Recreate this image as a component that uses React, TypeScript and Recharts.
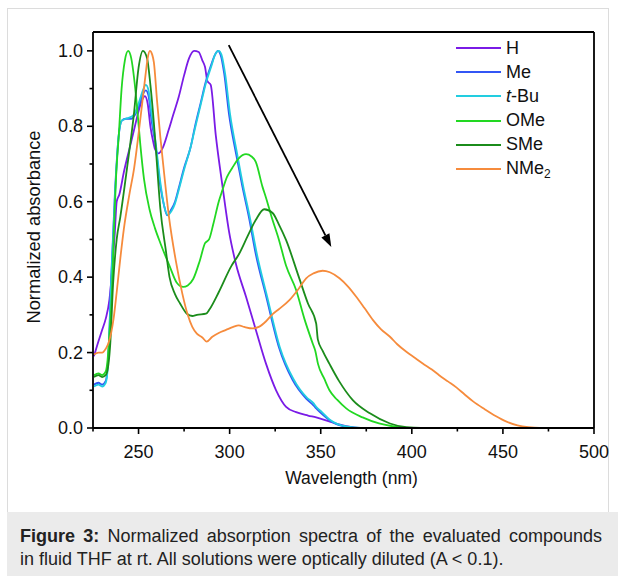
import React from "react";
import { LineChart, Line, XAxis, YAxis, ReferenceLine } from "recharts";

type Pt = [number, number];

// wavelength (nm), normalized absorbance
const H: Pt[] = [
  [225.5, 0.19], [228, 0.23], [230, 0.26], [232, 0.29], [234, 0.34], [236, 0.45], [237, 0.52],
  [238, 0.6], [239.5, 0.62], [242, 0.68], [245.5, 0.75], [248, 0.8], [250, 0.84], [252, 0.87],
  [253.5, 0.88], [255, 0.86], [256.5, 0.8], [258, 0.76], [259, 0.74], [261, 0.728], [263, 0.74],
  [266.5, 0.79], [269, 0.83], [272, 0.877], [275, 0.935], [277.7, 0.98], [280.5, 1.0], [283, 0.997],
  [285, 0.975], [286.5, 0.957], [287.8, 0.92], [289.6, 0.91], [292.4, 0.776], [296, 0.644],
  [299.7, 0.52], [303.4, 0.436], [309, 0.348], [314.4, 0.26], [320, 0.17], [325.5, 0.1],
  [331, 0.056], [336.5, 0.042], [343, 0.033], [347.5, 0.028], [355, 0.017], [364, 0.005],
  [372, 0], [500, 0],
];

const ME: Pt[] = [
  [225.5, 0.115], [228, 0.12], [230, 0.115], [232, 0.125], [233.5, 0.2], [235, 0.4], [237, 0.62],
  [239, 0.77], [240.8, 0.815], [243, 0.82], [246, 0.82], [248, 0.83], [250, 0.85], [252, 0.88],
  [254, 0.895], [255.5, 0.88], [257, 0.82], [259.3, 0.75], [262, 0.64], [264, 0.59], [265.7, 0.564],
  [268, 0.58], [270, 0.6], [272, 0.635], [275, 0.69], [278.6, 0.745], [281, 0.8], [284, 0.86],
  [287, 0.92], [290, 0.965], [292, 0.99], [293.5, 1.0], [295, 0.99], [297, 0.94], [299.7, 0.83],
  [303.4, 0.73], [307, 0.64], [310.7, 0.556], [314.4, 0.46], [320, 0.35], [327, 0.215],
  [334.6, 0.127], [342, 0.078], [346, 0.06], [347.5, 0.052], [350, 0.04], [355, 0.02],
  [364, 0.003], [372, 0], [500, 0],
];

const TBU: Pt[] = [
  [225.5, 0.11], [228, 0.115], [230, 0.11], [232, 0.12], [233.5, 0.19], [235, 0.39], [237, 0.61],
  [239, 0.77], [240.8, 0.815], [243, 0.82], [246, 0.825], [248, 0.835], [250, 0.86], [252, 0.89],
  [254, 0.91], [255.5, 0.895], [257, 0.84], [259.3, 0.76], [262, 0.65], [264, 0.59], [266, 0.565],
  [268, 0.575], [270, 0.595], [272, 0.63], [275, 0.685], [278.6, 0.745], [281, 0.795], [284, 0.855],
  [287, 0.915], [290, 0.96], [292, 0.99], [294, 1.0], [295.5, 0.99], [297.5, 0.94], [300.3, 0.83],
  [304, 0.73], [307.5, 0.64], [311.2, 0.556], [315, 0.46], [320.5, 0.35], [327.5, 0.215],
  [335, 0.13], [342.5, 0.08], [346, 0.066], [347.5, 0.056], [350, 0.045], [355, 0.022],
  [364, 0.004], [372, 0], [500, 0],
];

const OME: Pt[] = [
  [225.5, 0.14], [228, 0.145], [230, 0.14], [232, 0.15], [233, 0.18], [234, 0.25], [235.4, 0.36],
  [236.3, 0.5], [237.6, 0.66], [239.2, 0.78], [240.7, 0.9], [242.5, 0.975], [244.3, 1.0], [246, 0.98],
  [247.5, 0.93], [249.2, 0.85], [251, 0.75], [253, 0.66], [256, 0.58], [259, 0.53], [262, 0.49],
  [267, 0.43], [271, 0.385], [274.5, 0.374], [277, 0.378], [280, 0.395], [283.7, 0.445],
  [286.5, 0.49], [288.7, 0.5], [291, 0.54], [294, 0.6], [296, 0.63], [298.5, 0.665], [301.5, 0.69],
  [305, 0.715], [309, 0.726], [312, 0.72], [314.4, 0.705], [318, 0.64], [320, 0.61], [323, 0.56],
  [327, 0.5], [331, 0.43], [336.5, 0.366], [341, 0.29], [345.6, 0.224], [347, 0.205], [348.5, 0.17],
  [352, 0.13], [354.8, 0.1], [359, 0.075], [364, 0.052], [373, 0.028], [382, 0.012], [390, 0.004],
  [398, 0], [500, 0],
];

const SME: Pt[] = [
  [225.5, 0.135], [228, 0.14], [230, 0.135], [232, 0.14], [233.5, 0.17], [234.5, 0.225], [236, 0.38],
  [238, 0.5], [240, 0.56], [243.7, 0.69], [247.4, 0.83], [250, 0.955], [252.4, 1.0], [254.7, 0.98],
  [256.5, 0.91], [258.4, 0.81], [259.5, 0.74], [262, 0.58], [265, 0.47], [267, 0.4], [270, 0.355],
  [272.8, 0.33], [276.5, 0.303], [279.5, 0.297], [282, 0.3], [287, 0.303], [289, 0.315], [294, 0.36],
  [301, 0.43], [305, 0.46], [310, 0.51], [314.4, 0.552], [319, 0.58], [323.6, 0.57], [327, 0.54],
  [331, 0.498], [338, 0.4], [343, 0.33], [347.5, 0.277], [348.4, 0.235], [351, 0.205], [354.8, 0.17],
  [360, 0.125], [367.6, 0.074], [377, 0.039], [388, 0.012], [397, 0.002], [405, 0], [500, 0],
];

const NME2: Pt[] = [
  [225.5, 0.195], [228, 0.2], [230, 0.2], [232, 0.21], [233.5, 0.225], [236.3, 0.29], [238, 0.36],
  [240, 0.45], [242, 0.53], [245, 0.62], [247.6, 0.69], [251, 0.82], [253.8, 0.935], [255, 0.98],
  [256.2, 1.0], [257.5, 0.99], [258.4, 0.97], [260.2, 0.865], [262, 0.77], [263.5, 0.7],
  [266.7, 0.56], [270.4, 0.445], [274, 0.357], [277, 0.3], [279.5, 0.268], [282, 0.25], [285, 0.24],
  [287.4, 0.229], [290.5, 0.242], [294, 0.252], [298, 0.26], [302, 0.268], [305, 0.272], [308, 0.268],
  [312.6, 0.264], [316, 0.268], [320, 0.283], [323.6, 0.302], [327, 0.315], [332.8, 0.339],
  [338, 0.37], [342, 0.397], [346, 0.41], [351, 0.417], [355, 0.413], [360.3, 0.397], [365, 0.375],
  [369.5, 0.348], [374, 0.318], [378.7, 0.286], [383, 0.262], [388, 0.242], [392, 0.222],
  [397, 0.202], [402, 0.185], [406, 0.171], [411, 0.155], [415, 0.14], [420, 0.123], [424.6, 0.107],
  [429, 0.089], [433.8, 0.07], [440, 0.05], [446, 0.032], [452, 0.017], [458, 0.007], [464, 0.002],
  [470, 0], [500, 0],
];

const SERIES = [
  { name: "H", data: H, color: "#7a1be6" },
  { name: "Me", data: ME, color: "#3256f5" },
  { name: "t-Bu", data: TBU, color: "#22cde0" },
  { name: "OMe", data: OME, color: "#22d822" },
  { name: "SMe", data: SME, color: "#1b8c1b" },
  { name: "NMe2", data: NME2, color: "#f68b3c" },
];

const X_TICKS = [225, 250, 275, 300, 325, 350, 375, 400, 425, 450, 475, 500];
const Y_TICKS = [0, 0.1, 0.2, 0.3, 0.4, 0.5, 0.6, 0.7, 0.8, 0.9, 1.0];
const ARROW = [
  { x: 299.5, y: 1.015 },
  { x: 355.8, y: 0.48 },
];

const FONT = '"Liberation Sans", Arial, Helvetica, sans-serif';

const YTick = (props: any) => {
  const { x, y, payload } = props;
  const major = Math.round(payload.value * 10) % 2 === 0;
  return (
    <g>
      <line x1={x - (major ? 6 : 3.5)} x2={x} y1={y} y2={y} stroke="#000" strokeWidth={1.6} />
      {major && (
        <text x={x - 10} y={y} textAnchor="end" dominantBaseline="central" fontSize={18} fill="#111" fontFamily={FONT}>
          {payload.value.toFixed(1)}
        </text>
      )}
    </g>
  );
};

const XTick = (props: any) => {
  const { x, y, payload } = props;
  const major = payload.value % 50 === 0;
  return (
    <g>
      <line x1={x} x2={x} y1={y} y2={y + (major ? 6 : 3.5)} stroke="#000" strokeWidth={1.6} />
      {major && (
        <text x={x} y={y + 24} textAnchor="middle" dominantBaseline="central" fontSize={18} fill="#111" fontFamily={FONT}>
          {payload.value}
        </text>
      )}
    </g>
  );
};

const Arrow = (p: any) => {
  const { x1, y1, x2, y2 } = p;
  const ang = Math.atan2(y2 - y1, x2 - x1);
  const len = 13;
  const hw = 4.5;
  const bx = x2 - len * Math.cos(ang);
  const by = y2 - len * Math.sin(ang);
  const pts = [
    `${x2},${y2}`,
    `${bx + hw * Math.sin(ang)},${by - hw * Math.cos(ang)}`,
    `${bx - hw * Math.sin(ang)},${by + hw * Math.cos(ang)}`,
  ].join(" ");
  return (
    <g>
      <line x1={x1} y1={y1} x2={bx} y2={by} stroke="#000" strokeWidth={1.8} />
      <polygon points={pts} fill="#000" />
    </g>
  );
};

const LegendBox = () => (
  <div style={{ position: "absolute", left: 456, top: 36, fontFamily: FONT, fontSize: 18, color: "#111" }}>
    {SERIES.map((s) => (
      <div key={s.name} style={{ display: "flex", alignItems: "center", height: 24.2 }}>
        <span style={{ display: "inline-block", width: 45, height: 2, background: s.color, marginRight: 5 }} />
        <span>
          {s.name === "t-Bu" ? (
            <>
              <i>t</i>-Bu
            </>
          ) : s.name === "NMe2" ? (
            <>
              NMe<sub style={{ fontSize: 12, verticalAlign: -4 }}>2</sub>
            </>
          ) : (
            s.name
          )}
        </span>
      </div>
    ))}
  </div>
);

export default function App() {
  return (
    <div style={{ position: "absolute", left: 0, top: 0, width: 618, height: 576, background: "#fff", fontFamily: FONT }}>
      <div
        style={{
          position: "absolute",
          left: 7,
          top: 8,
          width: 602,
          height: 504,
          border: "1px solid #dcdcdc",
          borderBottom: "none",
          boxSizing: "border-box",
        }}
      />
      <div style={{ position: "absolute", left: 0, top: 0 }}>
        <LineChart width={618} height={512} margin={{ top: 32, right: 24, left: 0, bottom: 0 }}>
          <XAxis
            dataKey="wl"
            type="number"
            domain={[225, 500]}
            allowDataOverflow
            ticks={X_TICKS}
            interval={0}
            tick={<XTick />}
            tickLine={false}
            tickSize={0}
            tickMargin={0}
            height={84}
            axisLine={{ stroke: "#000", strokeWidth: 1.8 }}
            label={{
              content: (p: any) => {
                const vb = p.viewBox;
                return (
                  <text x={vb.x + vb.width / 2 + 8} y={478} textAnchor="middle" dominantBaseline="central" fontSize={17.5} fill="#111" fontFamily={FONT}>
                    Wavelength (nm)
                  </text>
                );
              },
            }}
          />
          <YAxis
            type="number"
            domain={[0, 1.05]}
            ticks={Y_TICKS}
            interval={0}
            tick={<YTick />}
            tickLine={false}
            tickSize={0}
            tickMargin={0}
            width={93}
            axisLine={{ stroke: "#000", strokeWidth: 1.8 }}
            label={{
              content: (p: any) => {
                const vb = p.viewBox;
                const cy = vb.y + vb.height / 2 - 3;
                return (
                  <text x={33} y={cy} transform={`rotate(-90 33 ${cy})`} textAnchor="middle" dominantBaseline="central" fontSize={18.3} fill="#111" fontFamily={FONT}>
                    Normalized absorbance
                  </text>
                );
              },
            }}
          />
          <ReferenceLine y={1.05} stroke="#000" strokeWidth={1.8} />
          <ReferenceLine x={500} stroke="#000" strokeWidth={1.8} />
          {SERIES.map((s) => (
            <Line
              key={s.name}
              name={s.name}
              data={s.data.map(([wl, a]) => ({ wl, a }))}
              dataKey="a"
              type="monotone"
              stroke={s.color}
              strokeWidth={1.8}
              dot={false}
              isAnimationActive={false}
            />
          ))}
          <ReferenceLine segment={ARROW} shape={<Arrow />} />
        </LineChart>
      </div>
      <LegendBox />
      <div
        style={{
          position: "absolute",
          left: 7,
          top: 512,
          width: 611,
          height: 64,
          background: "#ebebeb",
          boxSizing: "border-box",
          padding: "13px 0 0 13px",
          fontSize: 18,
          lineHeight: "23px",
          color: "#222",
          whiteSpace: "nowrap",
        }}
      >
        <div style={{ width: 582, textAlign: "justify", textAlignLast: "justify" }}>
          <b>Figure 3:</b> Normalized absorption spectra of the evaluated compounds
        </div>
        <div>in fluid THF at rt. All solutions were optically diluted (A &lt; 0.1).</div>
      </div>
    </div>
  );
}
